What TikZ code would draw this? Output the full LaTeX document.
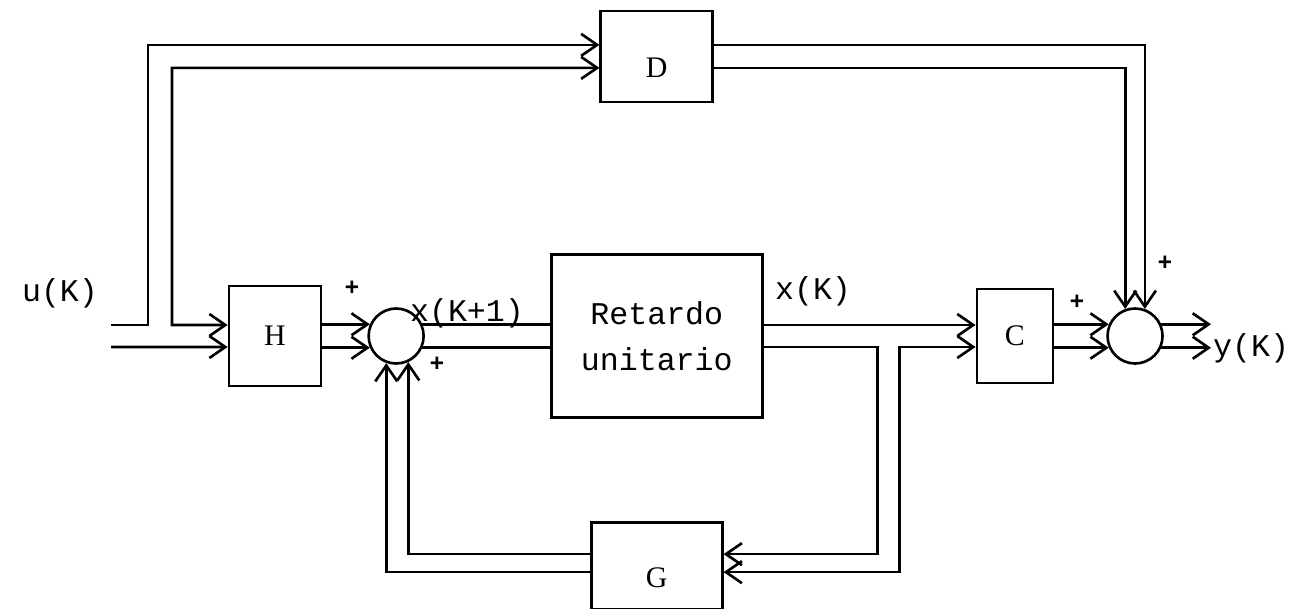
\documentclass[tikz,border=0pt]{standalone}
\usepackage{fontspec}
\setmainfont{Liberation Serif}
\setmonofont{Liberation Mono}
\usetikzlibrary{arrows.meta,positioning,calc}
\tikzset{
  blockbox/.style={draw, line width=1.5pt, inner sep=0pt, font=\fontsize{17}{20}\selectfont},
  sumnode/.style={draw, circle, line width=1.5pt, minimum size=1.1cm, inner sep=0pt},
  sig/.style={line width=1.5pt},
  arr/.style={sig, -{Straight Barb[length=3.2mm,width=4.4mm]}},
  twoarr/.style={sig, {Straight Barb[length=3.2mm,width=4.4mm]}-{Straight Barb[length=3.2mm,width=4.4mm]}},
  sglabel/.style={font=\ttfamily\fontsize{18}{22}\selectfont, inner sep=1pt},
  signlabel/.style={font=\ttfamily\bfseries\fontsize{14}{14}\selectfont, inner sep=0pt}
}
\begin{document}
\begin{tikzpicture}[node distance=1cm]
    \useasboundingbox (0,0) rectangle (26.12,-12.18);
    % main row
    \node[blockbox, minimum width=1.84cm, minimum height=2.0cm] (H) at (5.50,-6.72) {H};
    \node[sumnode, right=0.9cm of H] (sum1) {};
    \node[blockbox, font=\ttfamily\fontsize{18}{26}\selectfont, align=center, minimum width=4.22cm, minimum height=3.26cm, right=2.5cm of sum1] (ret) {Retardo\\unitario};
    \node[blockbox, minimum width=1.52cm, minimum height=1.88cm, right=4.24cm of ret] (C) {C};
    \node[sumnode, right=1.04cm of C] (sum2) {};
    % direct and feedback blocks
    \node[blockbox, minimum width=2.24cm, minimum height=1.82cm, text height=0.86cm, text depth=0pt, above=3.0cm of ret] (D) {D};
    \node[blockbox, minimum width=2.62cm, minimum height=1.74cm, text height=0.86cm, text depth=0pt, below=2.05cm of ret] (G) {G};
    % signal names and signs
    \node[sglabel] (uK) at (1.20,-5.86) {u(K)};
    \node[sglabel] (xK1) at (9.34,-6.26) {x(K+1)};
    \node[sglabel] (xK) at (16.26,-5.82) {x(K)};
    \node[sglabel, anchor=west] (yK) at (24.22,-6.96) {y(K)};
    \node[signlabel] (s1a) at (7.04,-5.76) {+};
    \node[signlabel] (s1b) at (8.74,-7.28) {+};
    \node[signlabel] (s2a) at (21.54,-6.04) {+};
    \node[signlabel] (s2b) at (23.30,-5.26) {+};
    \coordinate (uhi) at (2.22,-6.50);
    \coordinate (ulo) at (2.22,-6.94);
    % input branch
    \draw[arr] (uhi) -- (2.96,-6.50) |- ([yshift=2.3mm]D.west);
    \draw[twoarr] ([yshift=-2.3mm]D.west) -| (3.44,-6.50) -- ([yshift=2.2mm]H.west);
    \draw[arr] (ulo) -- ([yshift=-2.2mm]H.west);
    % forward path
    \draw[arr] (H.east |- sum1.156) -- (sum1.156);
    \draw[arr] (H.east |- sum1.204) -- (sum1.204);
    \draw[sig] (sum1.24) -- (sum1.24 -| ret.west);
    \draw[sig] (sum1.-24) -- (sum1.-24 -| ret.west);
    \draw[arr] ([yshift=2.2mm]ret.east) -- ([yshift=2.2mm]C.west);
    \draw[arr] (C.east |- sum2.156) -- (sum2.156);
    \draw[arr] (C.east |- sum2.204) -- (sum2.204);
    \draw[arr] (sum2.24) -- (sum2.24 -| yK.west);
    \draw[arr] (sum2.-24) -- (sum2.-24 -| yK.west);
    % feedback through G
    \draw[arr] ([yshift=-2.2mm]ret.east) -| ([xshift=3.08cm,yshift=2.4mm]G.east) -- ([yshift=2.4mm]G.east);
    \draw[twoarr] ([yshift=-2.2mm]C.west) -| ([xshift=3.52cm,yshift=-1.2mm]G.east) -- ([yshift=-1.2mm]G.east);
    \draw[arr] ([yshift=2.4mm]G.west) -| (sum1.295);
    \draw[arr] ([yshift=-1.2mm]G.west) -| (sum1.250);
    % path through D
    \draw[arr] ([yshift=2.3mm]D.east) -| (sum2.70);
    \draw[arr] ([yshift=-2.3mm]D.east) -| (sum2.110);
\end{tikzpicture}
\end{document}
